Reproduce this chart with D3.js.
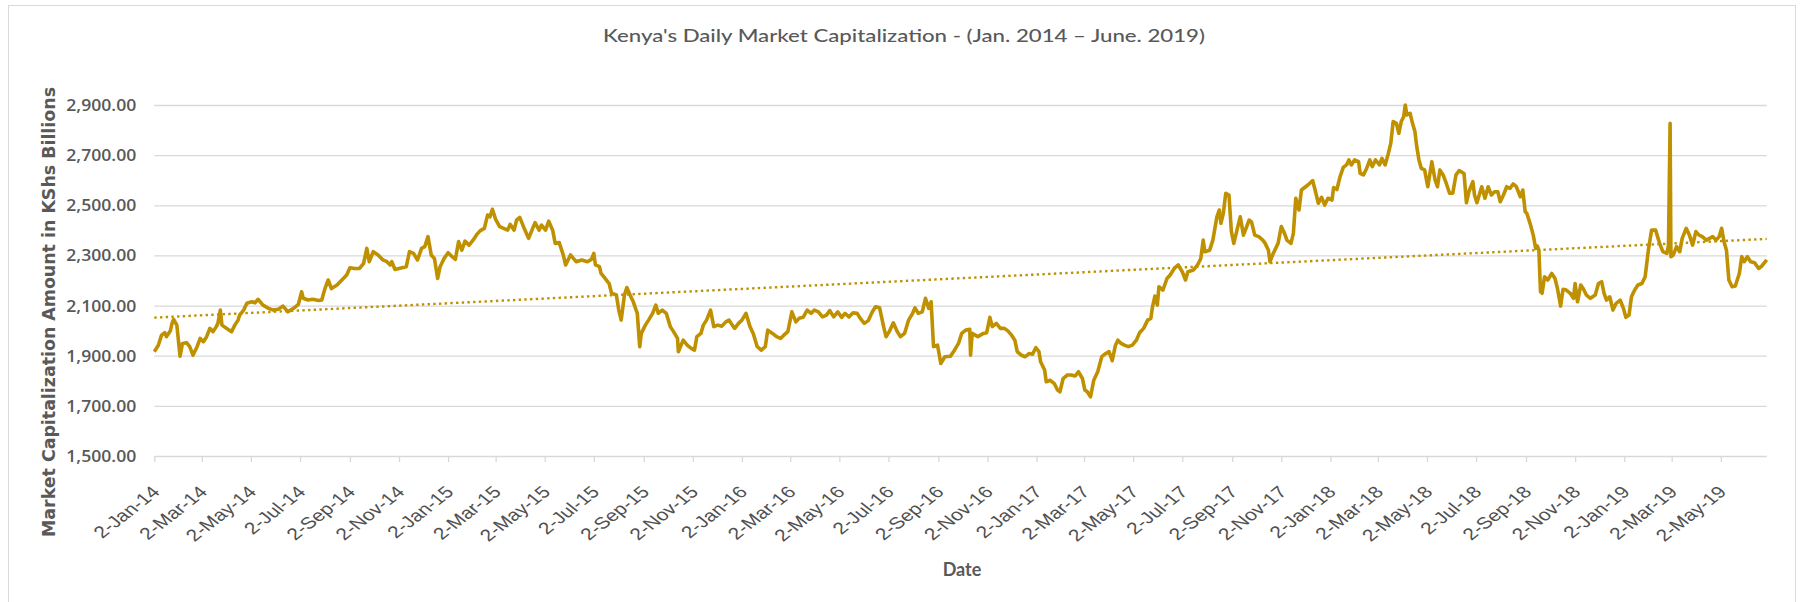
<!DOCTYPE html>
<html>
<head>
<meta charset="utf-8">
<script src="https://cdn.jsdelivr.net/npm/d3@7"></script>
<style>
  body { margin: 0; background: #fff; }
</style>
</head>
<body>
<div id="chart"></div>
<script>
// data: [days since 2-Jan-14, market cap in KShs bn]
var startDate = "2014-01-02";
var endDate = "2019-06-28";
var dailyCap = [
  [0,1916],[5,1942],[9,1982],[13,1992],[15,1976],[20,2000],[22,2029],[24,2045],[28,2022],[32,1898],
  [35,1949],[40,1952],[44,1936],[48,1902],[53,1935],[57,1969],[61,1956],[65,1976],[69,2009],[73,1996],
  [77,2016],[79,2029],[82,2082],[84,2022],[90,2009],[96,1996],[100,2022],[104,2042],[106,2062],[111,2082],
  [115,2109],[121,2115],[125,2111],[129,2125],[135,2102],[142,2089],[148,2082],[154,2085],[160,2098],[166,2075],
  [173,2089],[179,2105],[183,2155],[185,2129],[191,2122],[197,2125],[204,2120],[208,2122],[212,2168],[216,2202],
  [220,2168],[227,2182],[233,2202],[239,2222],[243,2251],[249,2248],[255,2248],[260,2268],[264,2328],[267,2275],
  [272,2315],[278,2302],[284,2282],[289,2275],[293,2262],[295,2275],[299,2244],[304,2248],
  [313,2255],[317,2315],[322,2308],[327,2282],[332,2328],[336,2335],[340,2375],[344,2302],[348,2288],[352,2208],
  [355,2255],[360,2288],[365,2311],[370,2295],[374,2284],[378,2355],[382,2321],[386,2357],[391,2341],[396,2361],
  [401,2385],[405,2399],[410,2408],[414,2461],[417,2454],[420,2484],[424,2444],[429,2415],[434,2408],[439,2401],
  [442,2424],[447,2401],[450,2441],[454,2452],[460,2404],[465,2368],[470,2408],[473,2431],[478,2401],[481,2421],
  [486,2401],[490,2437],[495,2399],[498,2348],[503,2351],[508,2302],[511,2262],[517,2302],[524,2275],[531,2282],
  [538,2275],[543,2284],[546,2308],[548,2262],[553,2255],[555,2228],[560,2208],[565,2188],[568,2149],[574,2142],
  [577,2082],[580,2042],[584,2142],[587,2172],[591,2142],[595,2115],[600,2069],[603,1936],[605,1989],[610,2022],
  [614,2042],[619,2069],[623,2102],[626,2069],[631,2082],[636,2069],[641,2016],[645,1996],[650,1969],[651,1916],
  [657,1962],[662,1942],[667,1929],[671,1922],[674,1976],[679,1989],[682,2022],[686,2042],[691,2082],[695,2016],
  [700,2022],[705,2018],[710,2035],[714,2042],[718,2022],[721,2009],
  [726,2030],[730,2042],[735,2069],[740,2016],[744,1989],[749,1936],[754,1922],[759,1936],[762,2002],[768,1989],
  [773,1976],[778,1969],[782,1982],[787,1996],[792,2075],[797,2035],[801,2049],[806,2053],[811,2082],[816,2069],
  [820,2082],[825,2075],[830,2055],[835,2062],[839,2080],[844,2055],[849,2075],[854,2053],[858,2069],[863,2055],
  [868,2071],[873,2069],[877,2049],[882,2029],[887,2040],[892,2075],[896,2095],[901,2091],[906,2016],[909,1976],
  [913,1996],[918,2031],[923,1996],[927,1976],[932,1989],[937,2042],[942,2069],[945,2091],[949,2069],[954,2075],
  [958,2129],[962,2089],[965,2115],[968,1936],[973,1942],[977,1869],[982,1896],[989,1898],[994,1922],[999,1949],
  [1003,1989],[1008,2002],[1013,2005],[1014,1902],[1016,1989],[1023,1976],[1030,1989],[1034,1992],[1038,2053],[1041,2016],
  [1046,2029],[1051,2009],[1056,2009],[1060,2000],[1065,1982],[1069,1962],[1072,1916],[1077,1902],[1082,1896],[1087,1909],
  [1091,1906],[1095,1932],[1099,1916],[1101,1876],[1106,1843],[1108,1796],[1113,1802],[1118,1789],[1122,1763],[1125,1756],
  [1129,1809],[1134,1823],[1139,1823],[1144,1819],[1148,1836],[1153,1809],[1156,1763],[1159,1756],[1163,1736],[1167,1802],
  [1172,1836],[1177,1896],[1182,1909],[1186,1916],[1190,1880],[1194,1942],[1197,1962],[1201,1949],[1205,1942],[1210,1936],
  [1215,1942],[1220,1962],[1224,1992],[1229,2009],[1234,2042],[1238,2049],[1240,2095],[1243,2138],[1246,2102],[1248,2175],
  [1253,2162],[1258,2208],[1262,2222],[1267,2248],[1272,2262],[1277,2235],[1281,2202],[1284,2235],[1291,2242],[1296,2262],
  [1300,2288],[1303,2361],[1305,2315],[1311,2321],[1315,2361],[1320,2454],[1323,2481],[1325,2428],[1328,2468],[1331,2548],
  [1335,2541],[1338,2395],[1341,2348],[1346,2415],[1349,2454],[1353,2381],[1357,2415],[1360,2441],[1363,2434],[1367,2381],
  [1372,2375],[1377,2361],[1380,2348],[1384,2321],[1386,2275],[1390,2308],[1396,2348],[1400,2415],[1404,2388],[1407,2361],
  [1412,2348],[1415,2388],[1418,2528],[1422,2481],
  [1425,2561],[1429,2571],[1433,2581],[1439,2598],[1442,2561],[1446,2508],[1450,2532],[1454,2501],[1458,2528],[1463,2521],
  [1465,2571],[1469,2563],[1473,2614],[1477,2651],[1481,2661],[1484,2681],[1487,2661],[1491,2681],[1496,2674],[1498,2627],
  [1502,2621],[1506,2647],[1510,2681],[1513,2654],[1517,2681],[1522,2661],[1525,2687],[1529,2661],[1533,2707],[1536,2747],
  [1539,2834],[1543,2827],[1546,2787],[1549,2834],[1552,2853],[1554,2900],[1556,2860],[1560,2867],[1563,2827],[1566,2794],
  [1568,2740],[1571,2681],[1574,2647],[1578,2641],[1582,2574],[1585,2634],[1587,2674],[1591,2601],[1594,2574],[1597,2641],
  [1601,2621],[1605,2587],[1609,2548],[1613,2548],[1617,2621],[1621,2638],[1627,2627],[1630,2510],[1633,2554],[1638,2594],
  [1640,2541],[1643,2510],[1649,2574],[1653,2528],[1657,2574],[1661,2541],[1665,2554],[1669,2554],[1672,2514],[1676,2541],
  [1680,2574],[1684,2567],[1688,2585],[1692,2574],[1697,2534],[1700,2561],[1703,2474],[1705,2468],[1709,2428],[1713,2381],
  [1716,2328],[1718,2338],[1720,2321],[1722,2155],[1724,2149],[1727,2215],[1731,2202],[1736,2228],[1740,2208],[1743,2169],
  [1747,2098],[1750,2165],[1754,2162],[1759,2149],[1763,2129],[1765,2188],[1768,2115],[1772,2182],[1775,2168],[1779,2142],
  [1784,2129],[1790,2142],[1794,2188],[1798,2195],[1801,2149],[1804,2122],[1808,2135],[1812,2082],[1816,2109],[1821,2122],
  [1825,2089],[1828,2053],[1832,2062],[1835,2135],[1839,2162],[1843,2182],[1848,2188],[1852,2215],[1856,2321],[1860,2401],
  [1865,2401],[1870,2348],[1874,2315],[1879,2308],[1881,2341],[1883,2827],[1884,2295],[1887,2302],[1891,2335],[1895,2315],
  [1898,2368],[1903,2408],[1907,2381],[1911,2341],[1915,2395],[1919,2381],[1923,2375],[1928,2361],[1932,2368],[1936,2375],
  [1940,2361],[1944,2375],[1947,2408],[1950,2355],[1953,2321],[1956,2202],[1960,2175],[1964,2178],[1969,2228],[1972,2295],
  [1975,2275],[1979,2295],[1983,2275],[1988,2271],[1993,2248],[1997,2258],[2003,2282]
];
// linear trendline as drawn in the source (value at first and last date)
var trendEnds = [2052, 2366];
var yTickValues = [1500, 1700, 1900, 2100, 2300, 2500, 2700, 2900];
var chartTitle = "Kenya's Daily Market Capitalization - (Jan. 2014 \u2013 June. 2019)";
var yTitle = "Market Capitalization  Amount in KShs Billions";
var xTitle = "Date";

var W = 1802, H = 602;
var margin = {top: 105, right: 1802 - 1766.7, bottom: 602 - 456, left: 154.3};
var width = W - margin.left - margin.right,
    height = H - margin.top - margin.bottom;
var gold = "#bf9000", grey = "#595959", gridCol = "#d9d9d9";

var parse = d3.timeParse("%Y-%m-%d");
var t0 = parse(startDate), t1 = parse(endDate);
var series = dailyCap.map(function(d){
  return {date: d3.timeDay.offset(t0, d[0]), value: d[1]};
});

var svg = d3.select("#chart").append("svg")
    .attr("width", W).attr("height", H)
    .style("font-family", "Lato, 'Open Sans', sans-serif");

svg.append("rect").attr("width", W).attr("height", H).attr("fill", "#fff");
// chart area border
svg.append("rect")
    .attr("x", 8.5).attr("y", 5.5).attr("width", 1787).attr("height", 640)
    .attr("fill", "none").attr("stroke", gridCol).attr("stroke-width", 1);

var g = svg.append("g")
    .attr("transform", "translate(" + margin.left + "," + margin.top + ")");

var x = d3.scaleTime().domain([t0, t1]).range([0, width]);
var y = d3.scaleLinear().domain([1500, 2900]).range([height, 0]);

// gridlines + y labels
var yAxis = d3.axisLeft(y)
    .tickValues(yTickValues)
    .tickSize(-width)
    .tickPadding(18)
    .tickFormat(d3.format(",.2f"));
var yg = g.append("g").call(yAxis);
yg.select(".domain").remove();
yg.selectAll(".tick line").attr("stroke", gridCol).attr("stroke-width", 1.3);
yg.selectAll(".tick text")
    .attr("fill", grey)
    .attr("textLength", 70).attr("lengthAdjust", "spacingAndGlyphs")
    .style("font-family", "'Open Sans', Lato, sans-serif")
    .style("font-weight", "600")
    .style("font-size", "17px");

// x axis: a tick on the 2nd of every other month
var tickDates = d3.timeMonth.every(2)
    .range(new Date(2014, 0, 1), new Date(2019, 5, 1))
    .map(function(d){ return d3.timeDay.offset(d, 1); });
var xAxis = d3.axisBottom(x)
    .tickValues(tickDates)
    .tickSize(6)
    .tickFormat(d3.timeFormat("%-d-%b-%y"));
var xg = g.append("g")
    .attr("transform", "translate(0," + height + ")")
    .call(xAxis);
xg.select(".domain").remove();
xg.selectAll(".tick line").attr("stroke", gridCol).attr("stroke-width", 1.3);
xg.selectAll(".tick text")
    .attr("fill", "#505050")
    .attr("y", null).attr("dy", "0.35em")
    .attr("text-anchor", "end")
    .attr("transform", "translate(1,33) scale(1.28,1) rotate(-45)")
    .style("font-size", "16.5px");

// main series
var line = d3.line()
    .x(function(d){ return x(d.date); })
    .y(function(d){ return y(d.value); });
g.append("path")
    .datum(series)
    .attr("fill", "none")
    .attr("stroke", gold)
    .attr("stroke-width", 3.6)
    .attr("stroke-linejoin", "round")
    .attr("d", line);

// dotted linear trendline
var trend = [{date: t0, value: trendEnds[0]}, {date: t1, value: trendEnds[1]}];
g.append("path")
    .datum(trend)
    .attr("fill", "none")
    .attr("stroke", gold)
    .attr("stroke-width", 2.4)
    .attr("stroke-dasharray", "2.4 3.3")
    .attr("d", line);

// titles
svg.append("text")
    .attr("x", 904).attr("y", 42)
    .attr("text-anchor", "middle")
    .attr("textLength", 602).attr("lengthAdjust", "spacingAndGlyphs")
    .attr("fill", grey)
    .style("font-weight", "500")
    .style("font-size", "17.5px")
    .text(chartTitle);

svg.append("text")
    .attr("transform", "translate(55,312) rotate(-90)")
    .attr("text-anchor", "middle")
    .attr("textLength", 450).attr("lengthAdjust", "spacingAndGlyphs")
    .attr("fill", grey)
    .style("font-family", "'DejaVu Sans', Verdana, sans-serif")
    .style("font-weight", "bold")
    .style("font-size", "17px")
    .text(yTitle);

svg.append("text")
    .attr("x", 962).attr("y", 576)
    .attr("text-anchor", "middle")
    .attr("fill", grey)
    .style("font-weight", "bold")
    .style("font-size", "18px")
    .text(xTitle);
</script>
</body>
</html>
